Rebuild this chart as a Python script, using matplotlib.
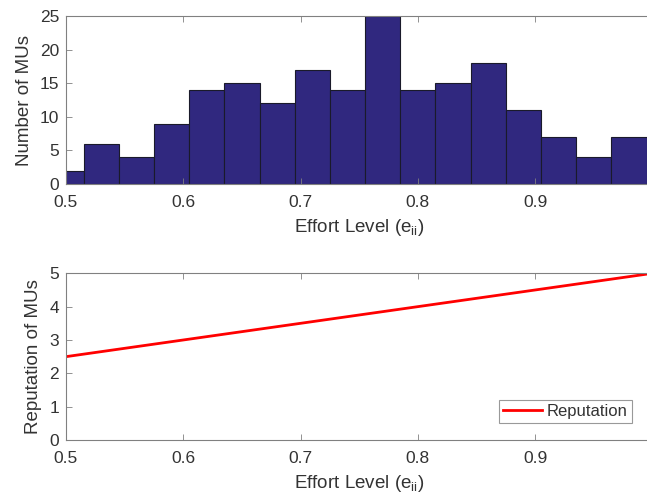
import numpy as np
import matplotlib
matplotlib.use('Agg')
import matplotlib.pyplot as plt

plt.rcParams['font.family'] = ['Liberation Sans', 'DejaVu Sans']
plt.rcParams['mathtext.fontset'] = 'custom'
plt.rcParams['mathtext.rm'] = 'Liberation Sans'

# histogram of effort levels (bin edges and counts)
bin_edges = [0.485 + 0.03 * i for i in range(18)]
counts = [2, 6, 4, 9, 14, 15, 12, 17, 14, 25, 14, 15, 18, 11, 7, 4, 7]

# reputation line
effort = [0.5, 1.0]
reputation = [2.5, 5.0]

xticks = [0.5, 0.6, 0.7, 0.8, 0.9]
xticklabels = ['0.5', '0.6', '0.7', '0.8', '0.9']

gray = '#808080'
txt = '#333333'

fig = plt.figure(figsize=(6.47, 5.01), dpi=100)

def style(ax):
	for s in ax.spines.values():
		s.set_color(gray)
		s.set_linewidth(0.8)
	ax.tick_params(direction='in', length=4, width=0.6, color=gray,
		labelcolor=txt, labelsize=12.5, top=True, right=True)
	ax.tick_params(axis='x', pad=8)
	ax.tick_params(axis='y', pad=5)

# px -> fig fraction: left 66, right ~652, top 16, bottom 184
ax1 = fig.add_axes([66/647, 1 - 184/501, 586.5/647, 168/501])
ax1.bar(bin_edges[:-1], counts, width=0.03, align='edge',
	color='#30287f', edgecolor='#1a1a2a', linewidth=0.8)
ax1.set_xlim(0.5, 1.0)
ax1.set_ylim(0, 25)
ax1.set_xticks(xticks)
ax1.set_xticklabels(xticklabels)
ax1.set_yticks([0, 5, 10, 15, 20, 25])
ax1.set_xlabel('Effort Level (e$_{\\mathrm{ii}}$)', fontsize=13.5, color=txt, labelpad=5)
ax1.set_ylabel('Number of MUs', fontsize=13.5, color=txt, labelpad=5)
style(ax1)

ax2 = fig.add_axes([66/647, 1 - 440/501, 586.5/647, 166.7/501])
ax2.plot(effort, reputation, color='#ff0000', linewidth=2, label='Reputation')
ax2.set_xlim(0.5, 1.0)
ax2.set_ylim(0, 5)
ax2.set_xticks(xticks)
ax2.set_xticklabels(xticklabels)
ax2.set_yticks([0, 1, 2, 3, 4, 5])
ax2.set_xlabel('Effort Level (e$_{\\mathrm{ii}}$)', fontsize=13.5, color=txt, labelpad=5)
ax2.set_ylabel('Reputation of MUs', fontsize=13.5, color=txt, labelpad=5)
style(ax2)
leg = ax2.legend(loc='lower left', bbox_to_anchor=((499 - 66) / 586.5, (440 - 423) / 166.7),
	fontsize=12, frameon=True, fancybox=False, borderpad=0.25, handlelength=2.3,
	handletextpad=0.3, borderaxespad=0)
leg.get_frame().set_edgecolor(gray)
leg.get_frame().set_linewidth(0.8)
for t in leg.get_texts():
	t.set_color(txt)

fig.savefig('out.png', dpi=100)
